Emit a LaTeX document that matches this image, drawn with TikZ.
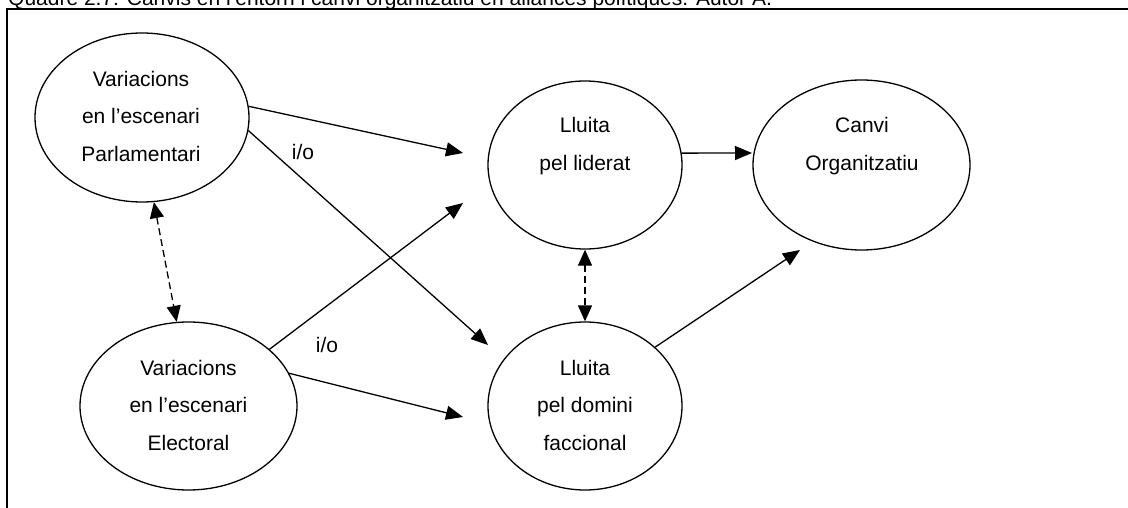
\documentclass[tikz,border=0pt]{standalone}
\usepackage{fontspec}
\setmainfont{Liberation Sans}
\usetikzlibrary{shapes.geometric,arrows.meta}
\begin{document}
\begin{tikzpicture}[x=1pt,y=-1pt,
  bubble/.style={ellipse,draw,line width=1.3pt,inner sep=0pt},
  words/.style={align=center,font=\fontsize{21}{37.5}\selectfont,inner sep=0pt},
  arr/.style={line width=1.3pt,-{Triangle[length=17pt,width=14pt]}},
  darr/.style={line width=1.3pt,dash pattern=on 7pt off 4pt,{Triangle[length=16pt,width=14pt]}-{Triangle[length=16pt,width=14pt]}},
  lbl/.style={font=\fontsize{21}{25}\selectfont,inner sep=0pt}]
\useasboundingbox (0,0) rectangle (1128,508);
\clip (0,0) rectangle (1128,508);
\fill[white] (0,0) rectangle (1128,508);

% caption, cut by the top edge of the page
\node[anchor=base west,inner sep=0pt,font=\fontsize{21}{25}\selectfont] (title) at (8,5.5)
  {Quadre 2.7: Canvis en l'entorn i canvi organitzatiu en aliances polítiques. Autor A.};

% frame
\draw[line width=1.8pt] (7,1000) -- (7,9) -- (1200,9);

% ellipses
\node[bubble,minimum width=214pt,minimum height=169pt] (parl) at (142,117.5) {};
\node[bubble,minimum width=217pt,minimum height=168pt] (elec) at (188.5,406) {};
\node[bubble,minimum width=194pt,minimum height=168pt] (lid)  at (585,165) {};
\node[bubble,minimum width=194pt,minimum height=168pt] (dom)  at (585,406) {};
\node[bubble,minimum width=217pt,minimum height=170pt] (canvi) at (861.5,165) {};

% texts
\node[words] (parlT) at (141,116) {Variacions\\en l’escenari\\Parlamentari};
\node[words] (elecT) at (188.5,405) {Variacions\\en l’escenari\\Electoral};
\node[words] (lidT) at (585,146) {Lluita\\pel liderat};
\node[words] (domT) at (585,405) {Lluita\\pel domini\\faccional};
\node[words] (canviT) at (862,146) {Canvi\\Organitzatiu};

% free arrow ends
\coordinate (tA) at (463,153);
\coordinate (tB) at (488,345);
\coordinate (tC) at (463,203);
\coordinate (tD) at (463,417);
\coordinate (tE) at (752,153);
\coordinate (tF) at (800,250);

% connectors
\draw[arr] (parl.6) -- (tA);
\draw[arr] (parl.-7) -- (tB);
\draw[arr] (elec.35) -- (tC);
\draw[arr] (elec.18) -- (tD);
\draw[arr] (lid.7) -- (tE);
\draw[arr] (dom.40) -- (tF);
\draw[darr] (parl.-82) -- (elec.98);
\draw[darr] (lid.south) -- (dom.north);

% labels
\node[lbl] (io1) at (303,152) {i/o};
\node[lbl] (io2) at (327,345) {i/o};
\end{tikzpicture}
\end{document}
